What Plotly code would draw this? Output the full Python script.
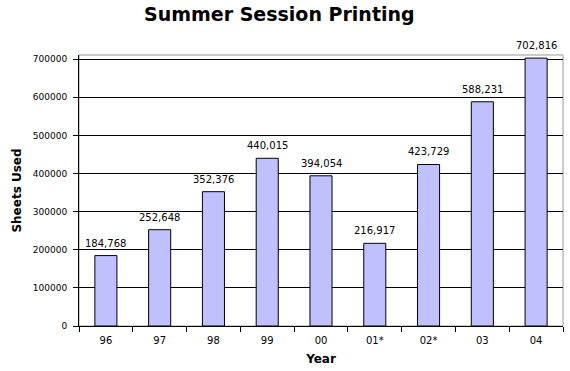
import plotly.graph_objects as go

years = ["96", "97", "98", "99", "00", "01*", "02*", "03", "04"]
sheets = [184768, 252648, 352376, 440015, 394054, 216917, 423729, 588231, 702816]
y_ticks = [0, 100000, 200000, 300000, 400000, 500000, 600000, 700000]

font = "DejaVu Sans, Verdana, sans-serif"

fig = go.Figure(go.Bar(
    x=years, y=sheets,
    marker=dict(color="#C0C0FF", line=dict(color="black", width=1)),
    cliponaxis=False, width=0.41,
))

for i, v in enumerate(sheets):
    fig.add_annotation(x=i, y=v, text=f"{v:,}", showarrow=False,
                       yanchor="bottom", yshift=5,
                       font=dict(family=font, size=10, color="black"))

fig.update_layout(
    width=570, height=371,
    margin=dict(l=79, r=7, t=55, b=45),
    paper_bgcolor="white", plot_bgcolor="white",
    showlegend=False,
    title=dict(text="<b>Summer Session Printing</b>", x=0.49, xanchor="center",
               y=0.962, yanchor="middle",
               font=dict(family=font, size=19, color="black")),
    font=dict(family=font, size=9, color="black"),
    xaxis=dict(
        type="category", categoryorder="array", categoryarray=years,
        range=[-0.5, len(years) - 0.5],
        showline=True, linecolor="black", linewidth=1,
        ticks="outside", tickson="boundaries", ticklen=5, tickcolor="black",
        tickfont=dict(size=10), automargin=False, ticklabelstandoff=5,
        title=dict(text="<b>Year</b>", font=dict(size=12), standoff=9),
        showgrid=False,
    ),
    yaxis=dict(
        range=[0, 711000], tickvals=y_ticks, tickformat="d",
        showline=True, linecolor="black", linewidth=1,
        ticks="outside", ticklen=5, tickcolor="black",
        showgrid=True, gridcolor="black", gridwidth=1,
        tickfont=dict(size=9), automargin=False, ticklabelstandoff=4,
        title=dict(text="<b>Sheets Used</b>", font=dict(size=12), standoff=8),
        zeroline=False,
    ),
    shapes=[dict(type="rect", xref="paper", yref="paper", x0=0, x1=1, y0=0, y1=1,
                 line=dict(color="#999999", width=1), layer="below")],
)

fig.write_html("out.html", config={"displayModeBar": False},
               post_script="document.body.style.margin='0';")
